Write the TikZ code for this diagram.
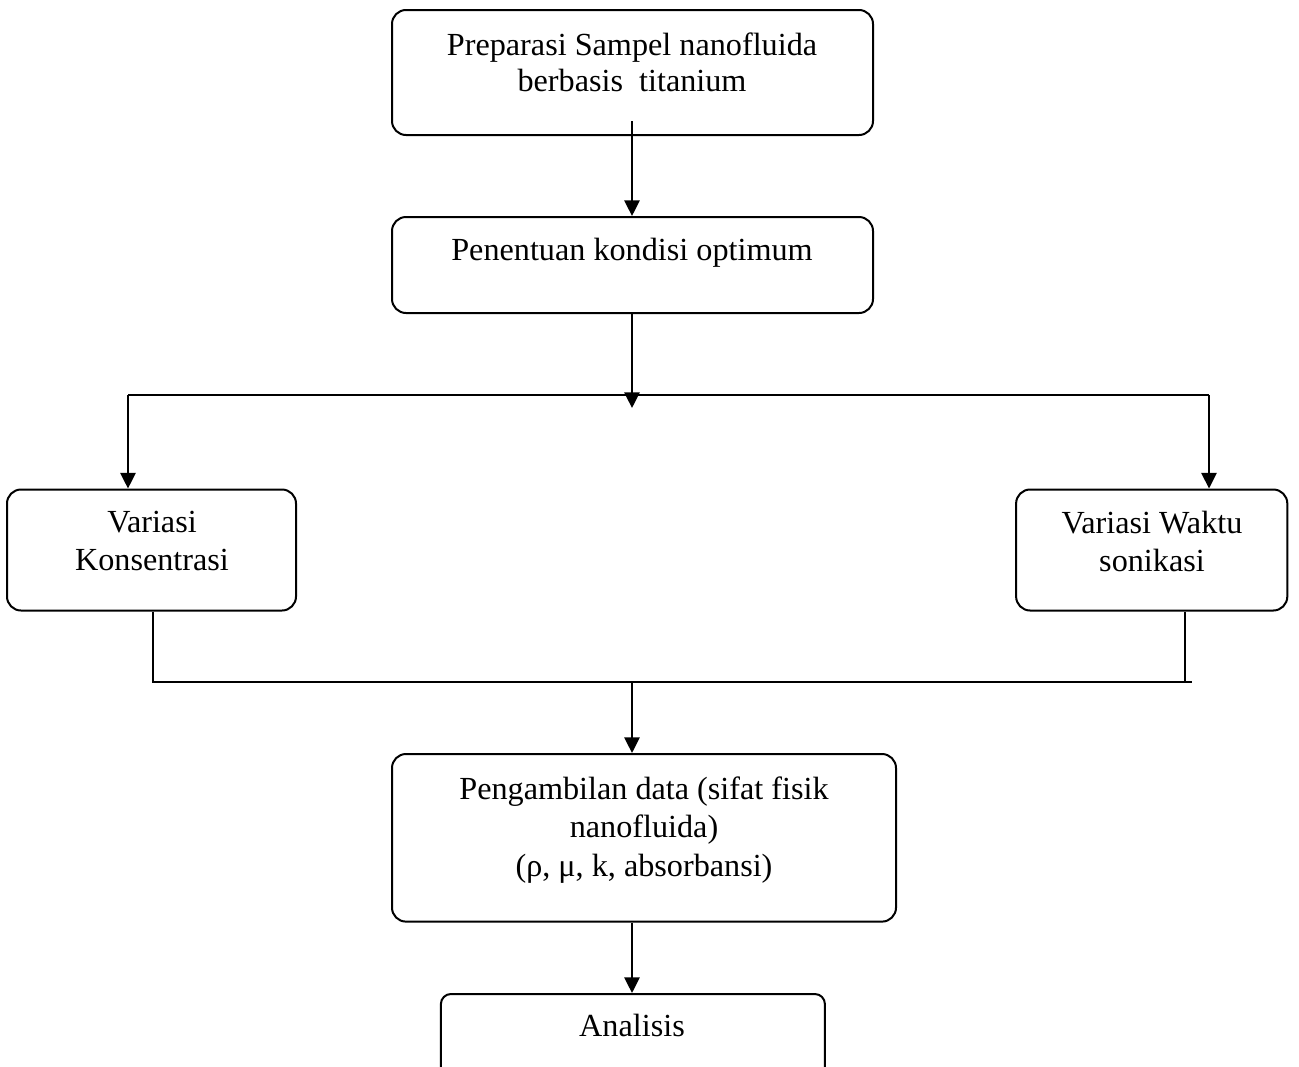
\documentclass[tikz,border=0pt]{standalone}
\usepackage{fontspec}
\setmainfont{Liberation Serif}
\usetikzlibrary{arrows.meta,calc}
\tikzset{
  box/.style={draw, line width=1pt, rounded corners=7pt, inner sep=0pt},
  txt/.style={align=center, inner sep=0pt, font=\fontsize{16.1}{19}\selectfont},
  conn/.style={line width=1pt},
  arr/.style={line width=1pt, -{Triangle[length=7.8pt,width=7.6pt]}}
}
\begin{document}
\begin{tikzpicture}[x=0.5pt,y=-0.5pt]
\useasboundingbox (0,0) rectangle (1299,1066);
\clip (0,0) rectangle (1299,1066);
% boxes
\node[box, minimum width=240.5pt, minimum height=62.5pt] (b1) at (632.5,72.5) {};
\node[box, minimum width=240.5pt, minimum height=48pt] (b2) at (632.5,265) {};
\node[box, minimum width=144.5pt, minimum height=60.5pt] (b3) at (151.5,550) {};
\node[box, minimum width=135.6pt, minimum height=60.5pt] (b4) at (1151.7,550) {};
\node[box, minimum width=252pt, minimum height=83.8pt] (b5) at (644,837.8) {};
\node[box, rounded corners=5pt, minimum width=192pt, minimum height=50pt] (b6) at (632.9,1044) {};
% texts
\node[txt, font=\fontsize{16.1}{17.85}\selectfont] (t1) at (632,62) {Preparasi Sampel nanofluida\\berbasis\ \ titanium};
\node[txt, anchor=base] (t2) at (632,260.7) {Penentuan kondisi optimum};
\node[txt] (t3) at (152,541) {Variasi\\Konsentrasi};
\node[txt] (t4) at (1152,541) {Variasi Waktu\\sonikasi};
\node[txt, font=\fontsize{16.1}{19.1}\selectfont] (t5) at (644,830) {Pengambilan data (sifat fisik\\nanofluida)\\(ρ, μ, k, absorbansi)};
\node[txt, anchor=base] (t6) at (632,1036.7) {Analisis};
% connectors
\coordinate (s1) at (632,121);
\draw[arr] (s1) -- (s1 |- b2.north);
\coordinate (j1) at (632,408);
\draw[arr] (j1 |- b2.south) -- (j1);
\coordinate (hl) at (128,395);
\coordinate (hr) at (1209,395);
\draw[conn] (hl) -- (hr);
\draw[arr] (hl) -- (hl |- b3.north);
\draw[arr] (hr) -- (hr |- b4.north);
\coordinate (bl) at (153,682);
\coordinate (br) at (1191.5,682);
\coordinate (brv) at (1184.5,682);
\draw[conn] (bl |- b3.south) -- (bl) -- (br);
\draw[conn] (brv |- b4.south) -- (brv);
\coordinate (m) at (632,682);
\draw[arr] (m) -- (m |- b5.north);
\draw[arr] (m |- b5.south) -- (m |- b6.north);
\end{tikzpicture}
\end{document}
